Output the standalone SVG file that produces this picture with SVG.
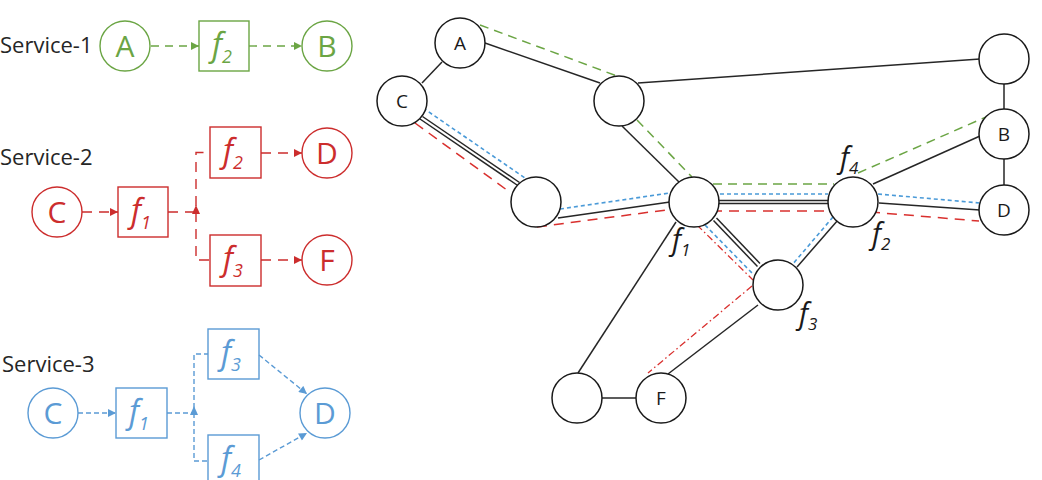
<svg xmlns="http://www.w3.org/2000/svg" width="1042" height="480" viewBox="0 0 1042 480">
<style>
.bg{fill:#fff}
.lbl{font-family:"Open Sans","Liberation Sans",sans-serif;font-size:22px;fill:#262626}
.fn{font-family:"Open Sans","Noto Sans",sans-serif;font-style:italic;font-size:32px}
.fr{font-family:"Open Sans","Noto Sans",sans-serif;font-style:italic;font-size:29px;fill:#1a1a1a}
.cl{font-family:"Open Sans","Liberation Sans",sans-serif;font-size:30px;text-anchor:middle}
.nl{font-family:"Open Sans","Liberation Sans",sans-serif;font-size:19px;text-anchor:middle;fill:#1a1a1a}
.g{stroke:#6BA544;fill:none;stroke-width:1.4}
.gt{fill:#6BA544}
.r{stroke:#CC2D2D;fill:none;stroke-width:1.4}
.rt{fill:#CC2D2D}
.b{stroke:#5B9BD5;fill:none;stroke-width:1.4}
.bt{fill:#5B9BD5}
.node{fill:#fff;stroke:#1a1a1a;stroke-width:1.5}
.edge{stroke:#262626;stroke-width:1.5;fill:none}
.gd{stroke:#6BA544;stroke-width:1.5;fill:none;stroke-dasharray:9 6}
.bd{stroke:#4A9AD8;stroke-width:1.6;fill:none;stroke-dasharray:4 3}
.rd{stroke:#D9302E;stroke-width:1.5;fill:none;stroke-dasharray:10 7}
.rdd{stroke:#D9302E;stroke-width:1.3;fill:none;stroke-dasharray:7 3 1.5 3}
.sg{stroke-dasharray:8 6}
.sr{stroke-dasharray:10 7}
.sb{stroke-dasharray:5 3}
</style>
<defs>
<marker id="ag" viewBox="0 0 10 10" refX="10" refY="5" markerWidth="9" markerHeight="8" markerUnits="userSpaceOnUse" orient="auto"><path d="M0,0L10,5L0,10z" fill="#6BA544"/></marker>
<marker id="ar" viewBox="0 0 10 10" refX="10" refY="5" markerWidth="9" markerHeight="8" markerUnits="userSpaceOnUse" orient="auto"><path d="M0,0L10,5L0,10z" fill="#CC2D2D"/></marker>
<marker id="ab" viewBox="0 0 10 10" refX="10" refY="5" markerWidth="9" markerHeight="8" markerUnits="userSpaceOnUse" orient="auto"><path d="M0,0L10,5L0,10z" fill="#5B9BD5"/></marker>
</defs>
<rect class="bg" x="0" y="0" width="1042" height="480"/>

<!-- service labels -->
<text class="lbl" x="0" y="53">Service-1</text>
<text class="lbl" x="0" y="165">Service-2</text>
<text class="lbl" x="2" y="372">Service-3</text>

<!-- left connectors -->
<g id="service-connectors">
<line class="g sg" x1="151" y1="46" x2="199" y2="46" marker-end="url(#ag)"/>
<line class="g sg" x1="249" y1="46" x2="302" y2="46" marker-end="url(#ag)"/>
<line class="r sr" x1="82" y1="212" x2="118" y2="212" marker-end="url(#ar)"/>
<path class="r sr" d="M168,212H196V152.5H210"/>
<path class="r sr" d="M196,212V260H210"/>
<path class="rt" d="M196,205L200,214H192z"/>
<line class="r sr" x1="261" y1="153" x2="302" y2="153" marker-end="url(#ar)"/>
<line class="r sr" x1="261" y1="260" x2="302" y2="260" marker-end="url(#ar)"/>
<line class="b sb" x1="78" y1="413" x2="116" y2="413" marker-end="url(#ab)"/>
<path class="b sb" d="M167,413H194V354H208"/>
<path class="b sb" d="M194,413V461H208"/>
<path class="bt" d="M194,406L198,415H190z"/>
<line class="b sb" x1="259" y1="355" x2="307" y2="394" marker-end="url(#ab)"/>
<line class="b sb" x1="259" y1="460" x2="307" y2="433" marker-end="url(#ab)"/>
</g>

<!-- service 1 nodes -->
<g id="s1-A"><circle class="g" cx="125" cy="46" r="25"/><text class="cl gt" x="125" y="57">A</text></g>
<g id="s1-f2"><rect class="g" x="199" y="21" width="50" height="50"/><text class="fn gt" x="212" y="56">f<tspan font-size="18" dy="7">2</tspan></text></g>
<g id="s1-B"><circle class="g" cx="327" cy="46" r="25"/><text class="cl gt" x="327" y="57">B</text></g>

<!-- service 2 nodes -->
<g id="s2-C"><circle class="r" cx="57" cy="212" r="25"/><text class="cl rt" x="57" y="223">C</text></g>
<g id="s2-f1"><rect class="r" x="118" y="187" width="50" height="50"/><text class="fn rt" x="131" y="222">f<tspan font-size="18" dy="7">1</tspan></text></g>
<g id="s2-f2"><rect class="r" x="210" y="127" width="51" height="51"/><text class="fn rt" x="223" y="162">f<tspan font-size="18" dy="7">2</tspan></text></g>
<g id="s2-f3"><rect class="r" x="210" y="235" width="51" height="51"/><text class="fn rt" x="223" y="270">f<tspan font-size="18" dy="7">3</tspan></text></g>
<g id="s2-D"><circle class="r" cx="327" cy="153" r="25"/><text class="cl rt" x="327" y="164">D</text></g>
<g id="s2-F"><circle class="r" cx="327" cy="260" r="25"/><text class="cl rt" x="327" y="271">F</text></g>

<!-- service 3 nodes -->
<g id="s3-C"><circle class="b" cx="53" cy="413" r="25"/><text class="cl bt" x="53" y="424">C</text></g>
<g id="s3-f1"><rect class="b" x="116" y="388" width="51" height="50"/><text class="fn bt" x="129" y="423">f<tspan font-size="18" dy="7">1</tspan></text></g>
<g id="s3-f3"><rect class="b" x="208" y="329" width="51" height="50"/><text class="fn bt" x="221" y="364">f<tspan font-size="18" dy="7">3</tspan></text></g>
<g id="s3-f4"><rect class="b" x="208" y="435" width="51" height="51"/><text class="fn bt" x="221" y="470">f<tspan font-size="18" dy="7">4</tspan></text></g>
<g id="s3-D"><circle class="b" cx="325" cy="413" r="25"/><text class="cl bt" x="325" y="424">D</text></g>

<!-- network connectors -->
<g id="connectors">
<line class="edge" x1="442" y1="62" x2="422" y2="83"/>
<line class="edge" x1="485" y1="43" x2="600" y2="83"/>
<line class="edge" x1="638" y1="83" x2="980" y2="59"/>
<line class="edge" x1="622" y1="126" x2="680" y2="183"/>
<line class="edge" x1="420" y1="119" x2="517" y2="185"/>
<line class="edge" x1="422.5" y1="116.5" x2="519.5" y2="182.5"/>
<line class="edge" x1="558" y1="218" x2="670" y2="202"/>
<line class="edge" x1="719" y1="200.5" x2="829" y2="200.5"/>
<line class="edge" x1="719" y1="203.5" x2="829" y2="203.5"/>
<line class="edge" x1="713.5" y1="220.5" x2="757.5" y2="266.5"/>
<line class="edge" x1="716.5" y1="218" x2="760" y2="263.5"/>
<line class="edge" x1="838" y1="220" x2="797" y2="267"/>
<line class="edge" x1="873" y1="184" x2="980" y2="136"/>
<line class="edge" x1="879" y1="203" x2="980" y2="210"/>
<line class="edge" x1="1004" y1="84" x2="1004" y2="109"/>
<line class="edge" x1="1004" y1="159" x2="1004" y2="185"/>
<line class="edge" x1="676" y1="222" x2="578" y2="373"/>
<line class="edge" x1="602" y1="398" x2="636" y2="398"/>
<line class="edge" x1="758" y1="305" x2="668" y2="374"/>

<line class="gd" x1="480" y1="25" x2="617" y2="76"/>
<line class="gd" x1="637" y1="120" x2="692" y2="177"/>
<line class="gd" x1="713" y1="184" x2="834" y2="184"/>
<line class="gd" x1="858" y1="173" x2="986" y2="117"/>

<line class="bd" x1="423" y1="108" x2="525" y2="178"/>
<line class="bd" x1="560" y1="209" x2="670" y2="193"/>
<line class="bd" x1="720" y1="194" x2="828" y2="194"/>
<line class="bd" x1="878" y1="194" x2="980" y2="203"/>
<line class="bd" x1="705" y1="225" x2="753" y2="274"/>
<line class="bd" x1="833" y1="217" x2="792" y2="265"/>

<line class="rd" x1="415" y1="123" x2="511" y2="193"/>
<line class="rd" x1="537" y1="227" x2="666" y2="210"/>
<line class="rd" x1="712" y1="211" x2="838" y2="211"/>
<line class="rd" x1="870" y1="212" x2="979" y2="221"/>
<line class="rdd" x1="697" y1="225" x2="753" y2="280"/>
<line class="rdd" x1="752" y1="286" x2="648" y2="373"/>
</g>

<!-- network nodes -->
<g id="n-A"><circle class="node" cx="460" cy="43" r="25"/><text class="nl" x="460" y="50">A</text></g>
<g id="n-C"><circle class="node" cx="402" cy="101" r="25"/><text class="nl" x="402" y="108">C</text></g>
<g id="n-1"><circle class="node" cx="619" cy="101" r="25"/></g>
<g id="n-2"><circle class="node" cx="536" cy="202" r="25"/></g>
<g id="n-f1"><circle class="node" cx="694" cy="202" r="25"/><text class="fr" x="672" y="250">f<tspan font-size="17" dy="6">1</tspan></text></g>
<g id="n-f4"><circle class="node" cx="853" cy="202" r="25"/><text class="fr" x="840" y="168">f<tspan font-size="17" dy="6">4</tspan></text></g>
<g id="n-f2label"><text class="fr" x="872" y="244">f<tspan font-size="17" dy="6">2</tspan></text></g>
<g id="n-top"><circle class="node" cx="1004" cy="59" r="25"/></g>
<g id="n-B"><circle class="node" cx="1004" cy="134" r="25"/><text class="nl" x="1004" y="141">B</text></g>
<g id="n-D"><circle class="node" cx="1004" cy="210" r="25"/><text class="nl" x="1004" y="217">D</text></g>
<g id="n-f3"><circle class="node" cx="778" cy="285" r="25"/><text class="fr" x="799" y="324">f<tspan font-size="17" dy="6">3</tspan></text></g>
<g id="n-BL"><circle class="node" cx="577" cy="398" r="25"/></g>
<g id="n-F"><circle class="node" cx="661" cy="398" r="25"/><text class="nl" x="661" y="405">F</text></g>
</svg>
